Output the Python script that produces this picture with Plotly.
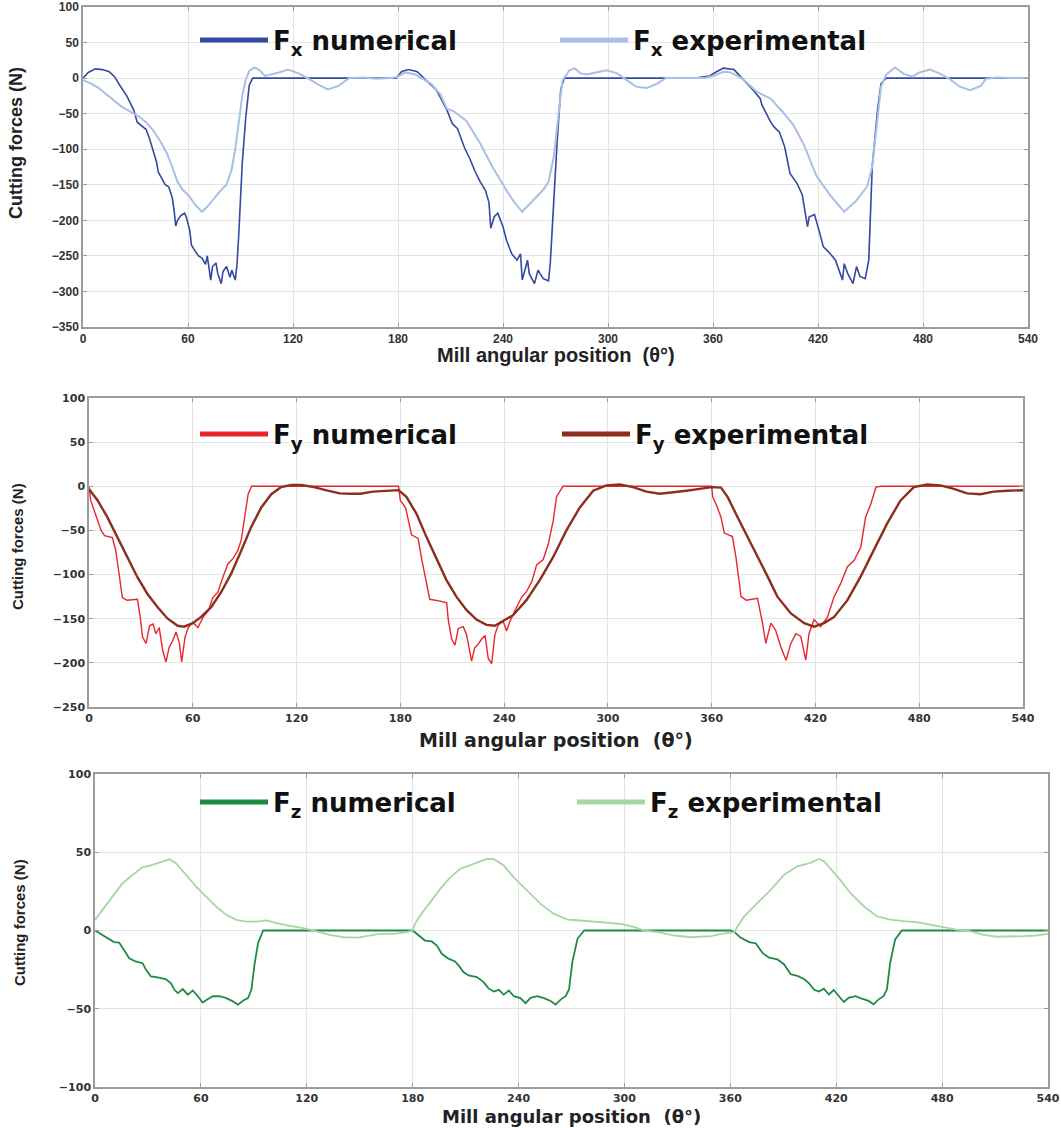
import plotly.graph_objects as go

# ---------------- data ----------------
x_tick_vals = [0, 60, 120, 180, 240, 300, 360, 420, 480, 540]

# Fx
fx_num_theta = [0, 3, 7, 11, 15, 18, 21, 25, 29, 31, 33, 36, 38, 40, 42, 43, 45, 47, 49, 51,
                52, 53, 54, 56, 58, 59, 61, 62, 64, 66, 68, 70, 71, 73, 74, 76, 77, 79, 80, 82,
                84, 85, 87, 88, 89, 90, 91, 93, 95, 97,
                179, 182, 186, 191, 196, 202, 208, 211, 214, 218, 221, 224, 227, 230, 232, 233,
                235, 237, 240, 242, 245, 248, 250, 251, 254, 255, 258, 260, 263, 266, 267, 269,
                271, 273, 275,
                350, 358, 362, 366, 372, 377, 383, 387, 388, 393, 395, 398, 401, 404, 408, 411,
                414, 415, 418, 421, 423, 427, 430, 432, 434, 435, 437, 440, 442, 444, 447, 449,
                451, 454, 456, 459, 540]
fx_num = [0, 8, 13, 12, 9, 2, -10, -25, -45, -62, -66, -72, -85, -100, -118, -132, -140, -150, -153, -168,
          -185, -208, -200, -193, -190, -195, -214, -235, -243, -250, -253, -262, -250, -284, -265, -260, -275, -289, -272, -265,
          -280, -270, -284, -262, -220, -160, -120, -55, -10, 0,
          0, 9, 12, 9, -3, -17, -45, -64, -71, -98, -113, -131, -146, -158, -175, -211,
          -195, -190, -209, -228, -247, -256, -247, -284, -256, -275, -289, -270, -282, -285, -261, -172,
          -87, -16, 0,
          0, 3, 9, 14, 12, -1, -17, -29, -38, -62, -69, -76, -97, -134, -148, -164,
          -209, -195, -192, -218, -237, -247, -256, -270, -284, -261, -275, -289, -265, -279, -282, -256,
          -124, -45, -8, 0, 0]

fx_exp_theta = [0, 5, 9, 15, 22, 27, 32, 36, 40, 44, 48, 51, 54, 57, 61, 64, 68, 71, 74, 78,
                82, 85, 87, 89, 91, 93, 95, 98, 101, 104, 108, 112, 117, 123, 129, 135, 140, 146, 152, 160,
                168, 176,
                180, 184, 190, 196, 199, 204, 208, 212, 219, 227, 234, 242, 246, 251, 255, 259, 263, 266, 269, 272,
                274, 278, 281, 284, 288, 293, 299, 305, 311, 316, 322, 328, 333, 340, 348, 355,
                360, 366, 370, 377, 385, 393, 400, 406, 412, 419, 427, 435, 442, 448, 451, 453,
                454, 456, 459, 464, 469, 474, 478, 484, 490, 495, 501, 507, 513, 516, 522, 530, 540]
fx_exp = [-3, -8, -14, -26, -40, -47, -54, -62, -73, -88, -106, -125, -146, -157, -167, -178, -188, -181, -172, -160,
          -150, -128, -100, -60, -25, -2, 10, 15, 11, 3, 5, 8, 12, 7, -1, -10, -16, -11, 0, 1,
          -1, 0,
          2, 8, 5, -3, -8, -22, -43, -47, -60, -92, -125, -158, -173, -188, -178, -167, -157, -146, -111, -45,
          -3, 11, 14, 7, 5, 8, 11, 7, -3, -12, -14, -8, 0, 0, 1, 0,
          3, 9, 8, -1, -19, -29, -48, -66, -94, -137, -165, -188, -172, -153, -124, -80,
          -54, -12, 5, 15, 6, 2, 8, 12, 6, -1, -12, -17, -11, -1, 1, 0, 0]

# Fy
fy_num_theta = [0, 1, 4, 7, 9, 13.5, 15.5, 17.5, 19.3, 22, 28, 29.6, 31, 33, 35, 37, 38.7, 40.6, 42.6, 44.5,
                46.4, 48.4, 50.3, 52.2, 53.6, 55.5, 57.4, 60, 63, 66, 69, 71.6, 74.5, 77.4, 80.3, 83.2, 86, 88, 90, 92,
                94, 179,
                180, 183, 186.5, 190.3, 192.3, 195.2, 197, 203, 206.8, 207.7, 209.7, 211.6, 213.5, 216.4, 218.3, 221.2,
                223, 225, 227, 229, 230.8, 232.8, 234.7, 236.6, 239.5, 241.4, 243.4, 246.2, 250, 253, 256, 258.8,
                262.6, 265.5, 268.4, 270.3, 274, 360,
                360.6, 362.5, 365.4, 367.3, 370.2, 372, 374, 377, 380, 386.5, 389.4, 391.3, 394.2, 397, 400, 403,
                405.8, 408.7, 411.5, 414.4, 416.3, 419.2, 423, 427, 430.8, 434.6, 438.5, 442.3, 446.2, 449, 452, 455,
                458, 540]
fy_num = [0, -16, -33, -50, -56, -58, -73, -99, -126, -129, -128, -148, -171, -178, -158, -156, -167, -160, -186, -199,
          -182, -175, -165, -177, -199, -171, -160, -154, -160, -148, -141, -126, -120, -103, -88, -82, -73, -61, -35, -9,
          0, 0,
          -16, -24, -55, -59, -82, -112, -128, -130, -132, -151, -173, -180, -161, -159, -168, -198,
          -183, -179, -173, -169, -195, -201, -168, -157, -153, -164, -153, -141, -126, -119, -108, -89,
          -83, -66, -39, -12, 0, 0,
          -12, -20, -35, -53, -55, -57, -80, -125, -129, -127, -155, -178, -155, -163, -182, -197,
          -178, -167, -170, -197, -167, -151, -159, -148, -125, -110, -91, -84, -69, -35, -20, -1,
          0, 0]

fy_exp_theta = [0, 5, 10.6, 16.4, 22.2, 28, 33.8, 39.7, 45.5, 51.3, 55, 60, 64.8, 70.6, 76.4, 82.2, 88, 93.8, 99.6, 105.4,
                111, 117, 123, 130, 138, 145, 151, 157, 164, 172, 179,
                183.5, 189.3, 195, 201, 206.6, 212.4, 218.2, 224, 229.8, 234.6, 239.4, 245.2, 252.9, 260.7, 268.4, 276,
                283.8, 291.5, 299.2, 306.9, 314.6, 322.3, 330, 337.7, 345.4, 353, 360,
                365.4, 369.2, 375, 380.8, 386.5, 392.3, 398, 405.8, 413.5, 419.2, 425, 430.8, 438.5, 446.2, 453.8, 461.5,
                469.2, 476.9, 484.6, 492.3, 500, 507.7, 515.4, 523, 530.8, 538.5, 540]
fy_exp = [-3, -16, -35, -58, -80, -103, -122, -137, -150, -158, -159, -155, -148, -137, -120, -99, -73, -46, -24, -9,
          -1, 1.5, 1.5, -1, -5, -8, -8.5, -8.5, -6, -5, -4.4,
          -12, -31, -57, -83, -106, -125, -140, -151, -157, -158, -153, -146, -129, -106, -80, -50,
          -24, -5, 1, 2, -1, -6, -8.5, -7, -5, -3, -1,
          -1.5, -12, -35, -57, -80, -102, -125, -144, -155, -159, -155, -148, -129, -102, -72, -42,
          -16, -1, 2, 1, -3, -8, -9, -6, -5, -4.5, -4.5]

# Fz
fz_num_theta = [0, 4, 8, 10.8, 13.7, 16.5, 19.4, 23, 27, 28.8, 31.7, 35.5, 40, 43, 45, 47, 49.7, 52.6, 55.4, 58.3,
                61, 64, 66.8, 70.6, 74.4, 78.2, 81, 84, 86.7, 88.6, 90.5, 92.4, 95.3, 180,
                183.2, 187, 190.8, 193.7, 196.5, 200.3, 204, 206, 208.8, 211.7, 216.4, 220.2, 223, 226, 228.8, 231.6,
                234.5, 237.3, 241, 244, 246.8, 250.6, 254.4, 258.2, 261, 264, 266.7, 268.6, 270.5, 273.4, 277.2, 360,
                362.3, 366, 370.7, 374.5, 378.2, 382, 386.7, 390.5, 394.2, 398, 401.7, 404.5, 407.4, 410.2, 413, 415.8,
                418.6, 421.5, 424.3, 427, 431, 434.6, 438.4, 441.2, 444, 446.8, 448.7, 450.6, 453.4, 457.2, 540]
fz_num = [0, -2.8, -6, -7.4, -7.7, -12.3, -17.7, -19.8, -20.9, -25, -29.4, -30, -31, -33.6, -37.9, -40, -37.4, -41, -38.3, -42,
          -46, -43.8, -42, -42, -43.2, -45.3, -47.4, -44.7, -43.2, -37.9, -20.9, -8, 0, 0,
          -3.2, -6.4, -7, -9.6, -14.9, -18, -19.8, -22.3, -26.6, -28.7, -29.8, -33, -37, -39, -37.9, -41,
          -38.3, -42, -43.2, -46.4, -43, -42, -43.2, -45, -47.4, -44, -42, -37.7, -20, -5.3, 0, 0,
          -1, -4.7, -7.4, -8.3, -14.3, -17.4, -18.5, -21.7, -28, -29, -31, -33.6, -37.7, -39, -37.2, -40.9,
          -38, -42, -45.7, -43, -42, -43.6, -45, -47.2, -44, -42, -37.7, -20.6, -5.7, 0, 0]

fz_exp_theta = [0, 4.2, 9.9, 15.6, 21.3, 26.9, 32.6, 38.3, 42.1, 45.9, 51.6, 57.3, 63, 68.7, 74.4, 80, 85.8, 91.5, 97.2, 102.8,
                110.4, 118, 125.6, 133, 140.8, 149, 161, 169, 176.6,
                180, 181.3, 184.2, 189.9, 195.6, 201.3, 206.9, 214.5, 222, 225.9, 231.6, 237.3, 244.9, 252.5, 260, 267.7,
                275.3, 282.8, 290.4, 298, 305.6, 311.3, 318.9, 328.4, 337.9, 349, 356.6, 362.3,
                364.1, 367.9, 375.4, 382.9, 390.5, 398, 405.5, 410.2, 413, 420.5, 428, 435.6, 443, 450.6, 458, 465.6,
                473, 480.7, 488, 495.7, 503, 510.8, 518.3, 525.8, 533.3, 540]
fz_exp = [6.8, 13.2, 21.7, 30.2, 35.5, 40.4, 42, 44, 45.5, 43, 35.5, 28, 21.7, 15.3, 10, 6.8, 5.7, 5.7, 6.4, 4.7,
          3, 1.5, -0.6, -2.8, -4.3, -4.6, -2.1, -2.1, -1,
          0, 4.3, 9.6, 18, 26.6, 34, 39.4, 42.6, 45.7, 45.7, 41.5, 34, 25.5, 17, 10.6, 7,
          6.4, 5.7, 5.3, 4.3, 2.1, 0, -1, -3.2, -4.3, -3.6, -1.9, -1,
          2.8, 9.1, 17.7, 26, 35.7, 41, 43.2, 45.7, 44.3, 34.7, 24, 15.5, 9.1, 7, 6, 5.3,
          3.8, 2.3, 0.6, -0.4, -2.6, -4, -4, -3.6, -3.2, -2.1]

for a, b in [(fx_num_theta, fx_num), (fx_exp_theta, fx_exp), (fy_num_theta, fy_num),
             (fy_exp_theta, fy_exp), (fz_num_theta, fz_num), (fz_exp_theta, fz_exp)]:
    assert len(a) == len(b), (len(a), len(b))

# ---------------- styling ----------------
W, H = 1061, 1128
C_FX_NUM, C_FX_EXP = "#34499F", "#A8BFE6"
C_FY_NUM, C_FY_EXP = "#E8262C", "#8E2F1E"
C_FZ_NUM, C_FZ_EXP = "#1F8A43", "#A4D8A0"

panels = [
    # (xaxis, yaxis, left, right, top, bottom, yrange)
    ("x", "y", 83, 1028, 7, 327, [-350, 100]),
    ("x2", "y2", 89, 1023, 398, 707, [-250, 100]),
    ("x3", "y3", 95, 1048, 774, 1087, [-100, 100]),
]

fig = go.Figure()

series = [
    (0, fx_num_theta, fx_num, C_FX_NUM, 1.6, "F<sub>x</sub> numerical", "legend"),
    (0, fx_exp_theta, fx_exp, C_FX_EXP, 2.0, "F<sub>x</sub> experimental", "legend"),
    (1, fy_num_theta, fy_num, C_FY_NUM, 1.4, "F<sub>y</sub> numerical", "legend2"),
    (1, fy_exp_theta, fy_exp, C_FY_EXP, 2.4, "F<sub>y</sub> experimental", "legend2"),
    (2, fz_num_theta, fz_num, C_FZ_NUM, 1.8, "F<sub>z</sub> numerical", "legend3"),
    (2, fz_exp_theta, fz_exp, C_FZ_EXP, 1.8, "F<sub>z</sub> experimental", "legend3"),
]

for p, xs, ys, col, lw, name, leg in series:
    xa, ya = panels[p][0], panels[p][1]
    fig.add_trace(go.Scatter(x=xs, y=ys, mode="lines", line=dict(color=col, width=lw),
                             xaxis=xa, yaxis=ya, showlegend=False, hoverinfo="skip"))
# legend entries with thicker sample lines
for p, xs, ys, col, lw, name, leg in series:
    xa, ya = panels[p][0], panels[p][1]
    fig.add_trace(go.Scatter(x=[None], y=[None], mode="lines", line=dict(color=col, width=5),
                             xaxis=xa, yaxis=ya, name=name, legend=leg, showlegend=True))

layout = dict(width=W, height=H, margin=dict(l=0, r=0, t=0, b=0, autoexpand=False),
              paper_bgcolor="white", plot_bgcolor="white", showlegend=True)

tick_fonts = [dict(family="Liberation Sans", size=12, color="#333333", weight="bold"),
              dict(family="DejaVu Sans", size=11, color="#333333", weight="bold"),
              dict(family="DejaVu Sans", size=11, color="#333333", weight="bold")]

for i, (xa, ya, l, r, t, b, yr) in enumerate(panels):
    xk = "xaxis" if xa == "x" else "xaxis" + xa[1:]
    yk = "yaxis" if ya == "y" else "yaxis" + ya[1:]
    common = dict(showgrid=True, gridcolor="#e4e4e4", gridwidth=1, showline=True, linecolor="#9c9c9c",
                  linewidth=1.5, mirror="allticks", ticks="inside", ticklen=4, tickcolor="#9c9c9c",
                  zeroline=False, tickfont=tick_fonts[i], automargin=False)
    layout[xk] = dict(domain=[l / W, r / W], anchor=ya, range=[0, 540], tickvals=x_tick_vals, **common)
    layout[yk] = dict(domain=[1 - b / H, 1 - t / H], anchor=xa, range=yr, dtick=50, **common)

leg_font = dict(family="DejaVu Sans", size=26, color="#111111", weight="bold")
# (row centre y, entry width) per legend
legend_cfg = [("legend", 40, 277), ("legend2", 434, 279), ("legend3", 802, 294)]
for key, row, ew in legend_cfg:
    layout[key] = dict(orientation="h", x=195 / W, xanchor="left", y=1 - row / H, yanchor="middle",
                       font=leg_font, bgcolor="rgba(0,0,0,0)", borderwidth=0, itemwidth=68,
                       entrywidth=ew, entrywidthmode="pixels", traceorder="normal")

annotations = []
# x titles
annotations.append(dict(text="Mill angular position  (θ°)", x=(83 + 1028) / 2 / W, y=1 - 355 / H,
                        xref="paper", yref="paper", showarrow=False, xanchor="center", yanchor="middle",
                        font=dict(family="Liberation Sans", size=20, color="#222222", weight="bold")))
annotations.append(dict(text="Mill angular position  (θ°)", x=(89 + 1023) / 2 / W, y=1 - 740 / H,
                        xref="paper", yref="paper", showarrow=False, xanchor="center", yanchor="middle",
                        font=dict(family="DejaVu Sans", size=19, color="#222222", weight="bold")))
annotations.append(dict(text="Mill angular position  (θ°)", x=(95 + 1048) / 2 / W, y=1 - 1116 / H,
                        xref="paper", yref="paper", showarrow=False, xanchor="center", yanchor="middle",
                        font=dict(family="DejaVu Sans", size=18, color="#222222", weight="bold")))
# y titles
for cx, cy, fs in [(16, 143, 18), (17, 547, 15), (19, 923, 15)]:
    annotations.append(dict(text="Cutting forces (N)", x=cx / W, y=1 - cy / H, xref="paper", yref="paper",
                            showarrow=False, textangle=-90, xanchor="center", yanchor="middle",
                            font=dict(family="Liberation Sans", size=fs, color="#222222", weight="bold")))
layout["annotations"] = annotations

fig.update_layout(**layout)
fig.write_html("out.html", config={"displayModeBar": False},
               post_script="document.body.style.margin='0';document.body.style.overflow='hidden';")
